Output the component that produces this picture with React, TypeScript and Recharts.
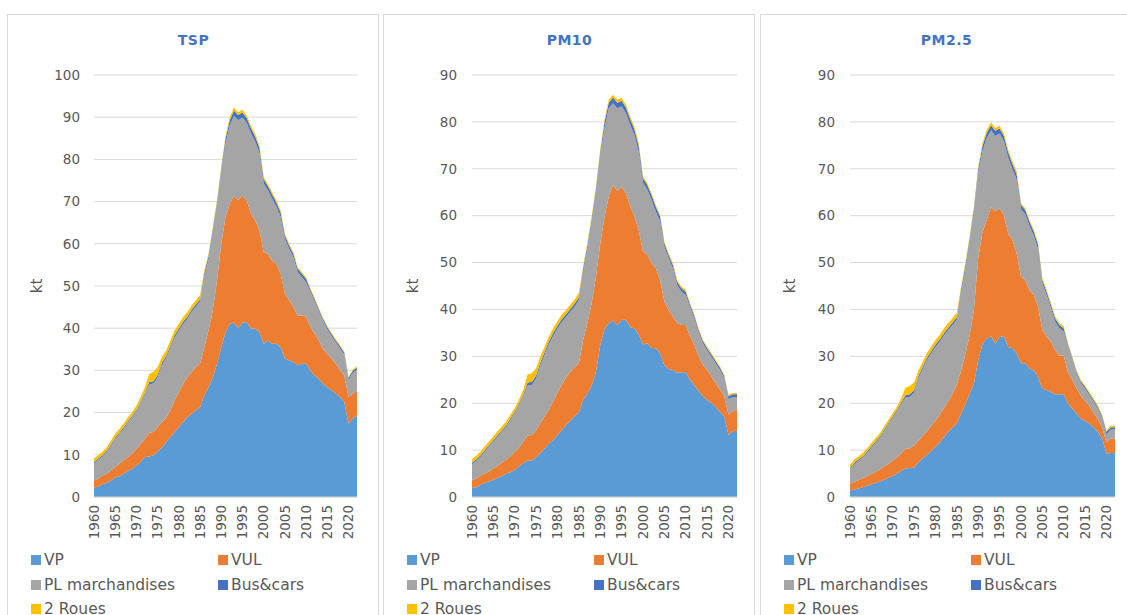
import { AreaChart, Area, XAxis, YAxis, CartesianGrid } from "recharts";

const FONT = '"DejaVu Sans", Verdana, sans-serif';
const TEXT = "#595959";

const years = [
  1960, 1961, 1962, 1963, 1964, 1965, 1966, 1967, 1968, 1969,
  1970, 1971, 1972, 1973, 1974, 1975, 1976, 1977, 1978, 1979,
  1980, 1981, 1982, 1983, 1984, 1985, 1986, 1987, 1988, 1989,
  1990, 1991, 1992, 1993, 1994, 1995, 1996, 1997, 1998, 1999,
  2000, 2001, 2002, 2003, 2004, 2005, 2006, 2007, 2008, 2009,
  2010, 2011, 2012, 2013, 2014, 2015, 2016, 2017, 2018, 2019,
  2020, 2021, 2022,
];

const seriesNames = ["VP", "VUL", "PL marchandises", "Bus&cars", "2 Roues"];
const seriesKeys = ["vp", "vul", "pl", "bus", "roues"];
const seriesColors = ["#5B9BD5", "#ED7D31", "#A5A5A5", "#4472C4", "#FFC000"];

const tspTicks = [0, 10, 20, 30, 40, 50, 60, 70, 80, 90, 100];
const pmTicks = [0, 10, 20, 30, 40, 50, 60, 70, 80, 90];

// TSP (kt)
const tspVP = [
  2.2, 2.5, 3.0, 3.3, 3.9, 4.6, 4.9, 5.5, 6.2, 6.7,
  7.5, 8.3, 9.5, 9.6, 9.9, 10.7, 11.8, 13.0, 14.2, 15.4,
  16.6, 17.8, 18.9, 19.7, 20.5, 21.3, 24.1, 26.0, 28.4, 31.6,
  35.5, 39.0, 41.0, 41.4, 39.9, 41.4, 41.4, 39.9, 39.9, 39.1,
  36.3, 37.1, 36.3, 36.3, 35.5, 32.8, 32.4, 32.0, 31.2, 31.6,
  31.6, 30.0, 28.8, 28.0, 26.8, 26.0, 25.3, 24.5, 23.7, 22.5,
  17.4, 18.6, 19.3,
];
const tspVUL = [
  1.7, 1.8, 2.1, 2.2, 2.4, 2.5, 3.0, 3.2, 3.3, 3.6,
  3.9, 4.3, 4.3, 5.6, 5.5, 5.9, 5.9, 5.8, 6.3, 7.5,
  8.3, 9.0, 9.5, 9.9, 10.3, 10.3, 11.4, 13.5, 15.8, 19.7,
  24.5, 27.3, 28.5, 30.0, 30.4, 30.0, 28.9, 27.2, 25.6, 24.1,
  21.7, 20.5, 19.7, 19.0, 17.4, 15.4, 14.2, 13.0, 11.8, 11.4,
  11.2, 10.3, 9.9, 9.1, 8.3, 7.9, 7.5, 7.1, 6.3, 6.3,
  6.3, 5.9, 6.0,
];
const tspPL = [
  4.1, 4.5, 4.5, 5.2, 5.9, 6.7, 7.1, 7.5, 8.2, 8.6,
  9.0, 9.8, 10.7, 11.5, 11.5, 11.8, 13.6, 14.1, 14.9, 14.9,
  14.5, 14.2, 13.8, 14.3, 14.3, 14.7, 16.8, 16.8, 18.4, 17.7,
  16.9, 17.4, 18.6, 18.9, 19.0, 18.5, 18.3, 19.1, 18.7, 18.3,
  16.3, 15.1, 14.7, 13.5, 13.5, 13.0, 12.2, 11.8, 10.3, 9.1,
  8.1, 8.4, 7.7, 6.9, 6.6, 5.8, 5.3, 5.0, 5.2, 4.9,
  4.0, 4.9, 4.9,
];
const tspBus = [
  0.3, 0.3, 0.3, 0.3, 0.3, 0.3, 0.3, 0.3, 0.3, 0.3,
  0.3, 0.3, 0.3, 0.5, 0.5, 0.5, 0.5, 0.5, 0.5, 0.5,
  0.5, 0.5, 0.5, 0.5, 0.5, 0.5, 0.8, 0.8, 0.8, 0.8,
  0.8, 1.2, 1.2, 1.2, 1.2, 1.2, 1.2, 1.2, 1.2, 1.2,
  1.0, 1.0, 1.0, 1.0, 1.0, 0.8, 0.8, 0.8, 0.8, 0.8,
  0.8, 0.5, 0.5, 0.5, 0.5, 0.5, 0.5, 0.5, 0.5, 0.5,
  0.5, 0.5, 0.5,
];
const tsp2R = [
  0.8, 0.8, 0.8, 0.8, 0.9, 0.9, 0.9, 0.9, 0.9, 0.9,
  1.0, 1.0, 1.2, 2.0, 2.2, 1.9, 1.4, 1.3, 1.2, 1.2,
  1.1, 1.1, 1.1, 1.0, 1.0, 1.0, 0.6, 0.5, 0.5, 0.5,
  0.5, 0.6, 0.7, 0.8, 0.7, 0.7, 0.6, 0.6, 0.6, 0.6,
  0.5, 0.5, 0.5, 0.5, 0.5, 0.4, 0.4, 0.4, 0.4, 0.4,
  0.4, 0.3, 0.3, 0.3, 0.3, 0.3, 0.3, 0.3, 0.3, 0.3,
  0.3, 0.3, 0.3,
];

// PM10 (kt)
const pm10VP = [
  1.9, 2.1, 2.6, 3.0, 3.3, 3.7, 4.1, 4.5, 5.0, 5.3,
  5.8, 6.5, 7.2, 7.8, 7.8, 8.5, 9.4, 10.4, 11.4, 12.2,
  13.2, 14.3, 15.3, 16.3, 17.2, 18.0, 20.8, 22.0, 23.8, 26.7,
  32.3, 35.8, 37.1, 37.7, 36.6, 37.8, 37.8, 36.2, 36.0, 34.6,
  32.5, 32.8, 31.8, 31.7, 30.7, 28.1, 27.3, 27.1, 26.5, 26.6,
  26.6, 25.0, 23.9, 22.6, 21.5, 20.7, 20.1, 19.2, 18.2, 17.2,
  13.3, 14.0, 14.2,
];
const pm10VUL = [
  1.7, 1.8, 2.0, 2.0, 2.2, 2.4, 2.6, 2.8, 3.0, 3.4,
  3.8, 4.0, 4.6, 5.3, 5.4, 5.7, 6.4, 6.8, 7.2, 8.2,
  9.0, 9.7, 10.2, 10.4, 10.5, 10.5, 12.7, 15.1, 17.6, 20.3,
  21.7, 24.0, 27.0, 28.9, 28.6, 28.4, 27.0, 25.8, 23.8, 22.4,
  19.9, 18.9, 18.1, 17.1, 15.6, 13.6, 12.6, 11.4, 10.6, 10.1,
  10.1, 9.3, 8.6, 7.4, 6.7, 6.4, 5.6, 5.1, 4.7, 4.3,
  4.3, 4.3, 4.4,
];
const pm10PL = [
  3.4, 3.8, 4.0, 4.7, 5.3, 5.7, 6.2, 6.7, 7.0, 7.8,
  8.3, 9.2, 9.8, 10.7, 10.7, 11.1, 12.3, 13.2, 14.0, 14.0,
  13.7, 13.3, 12.9, 12.8, 12.9, 13.5, 14.4, 15.8, 17.1, 17.9,
  18.8, 18.9, 18.8, 17.4, 17.7, 17.1, 17.1, 17.4, 17.4, 16.7,
  14.6, 13.9, 13.5, 12.1, 12.5, 11.7, 11.0, 10.3, 8.1, 7.1,
  6.4, 6.3, 5.7, 5.2, 4.6, 4.2, 4.2, 4.2, 4.2, 3.8,
  3.3, 3.0, 2.7,
];
const pm10Bus = [
  0.3, 0.3, 0.3, 0.3, 0.3, 0.3, 0.3, 0.3, 0.3, 0.3,
  0.3, 0.3, 0.3, 0.6, 0.6, 0.6, 0.6, 0.6, 0.6, 0.6,
  0.6, 0.6, 0.6, 0.6, 0.6, 0.6, 0.8, 0.8, 0.8, 0.8,
  0.8, 1.2, 1.2, 1.2, 1.2, 1.2, 1.2, 1.2, 1.2, 1.2,
  1.0, 1.0, 1.0, 1.0, 1.0, 0.7, 0.7, 0.7, 0.7, 0.7,
  0.7, 0.5, 0.5, 0.5, 0.5, 0.5, 0.5, 0.5, 0.5, 0.5,
  0.6, 0.6, 0.6,
];
const pm102R = [
  0.8, 0.8, 0.8, 0.8, 0.8, 0.8, 0.8, 0.8, 0.8, 0.8,
  0.8, 0.8, 1.0, 1.7, 1.9, 1.6, 1.3, 1.1, 1.1, 1.0,
  1.0, 1.0, 0.9, 0.9, 0.9, 0.9, 0.5, 0.5, 0.5, 0.5,
  0.5, 0.6, 0.6, 0.6, 0.6, 0.6, 0.6, 0.6, 0.6, 0.6,
  0.4, 0.4, 0.4, 0.4, 0.4, 0.4, 0.4, 0.4, 0.4, 0.4,
  0.4, 0.3, 0.3, 0.3, 0.3, 0.3, 0.3, 0.3, 0.3, 0.3,
  0.3, 0.3, 0.3,
];

// PM2.5 (kt)
const pm25VP = [
  1.4, 1.6, 1.8, 2.1, 2.4, 2.7, 3.0, 3.3, 3.7, 4.1,
  4.5, 5.0, 5.6, 6.1, 6.2, 6.3, 7.4, 8.2, 9.0, 9.8,
  10.7, 11.7, 12.8, 13.9, 14.8, 15.7, 17.8, 19.8, 22.1, 24.2,
  29.2, 32.7, 33.8, 34.3, 32.7, 34.2, 34.3, 32.0, 31.8, 30.6,
  28.5, 28.5, 27.4, 27.0, 25.6, 23.1, 22.8, 22.4, 21.9, 21.9,
  21.9, 19.9, 18.9, 17.8, 16.7, 16.2, 15.7, 14.9, 13.9, 12.5,
  9.3, 9.4, 9.4,
];
const pm25VUL = [
  1.5, 1.6, 1.8, 1.9, 2.0, 2.2, 2.4, 2.6, 2.8, 3.0,
  3.3, 3.5, 3.7, 4.2, 4.2, 4.7, 4.6, 4.8, 5.0, 5.4,
  5.6, 5.9, 6.2, 6.6, 7.2, 8.3, 9.2, 10.7, 12.4, 15.8,
  21.8, 23.8, 25.3, 27.6, 28.2, 27.4, 25.8, 24.2, 23.0, 21.4,
  18.5, 17.8, 16.7, 16.1, 15.0, 12.5, 11.4, 10.7, 9.4, 8.3,
  8.3, 6.7, 6.1, 5.4, 4.9, 4.3, 3.7, 3.1, 2.7, 2.3,
  2.4, 3.1, 3.1,
];
const pm25PL = [
  3.0, 3.8, 4.1, 4.4, 5.0, 5.6, 6.2, 6.7, 7.6, 8.4,
  9.1, 9.8, 10.6, 10.9, 11.0, 11.3, 13.3, 14.3, 15.2, 15.4,
  15.7, 15.5, 15.5, 15.1, 14.7, 13.8, 16.6, 18.1, 19.8, 20.7,
  18.2, 17.3, 17.5, 16.3, 16.1, 15.9, 15.8, 16.2, 15.1, 15.7,
  14.4, 14.0, 13.7, 12.6, 12.3, 10.0, 8.9, 7.2, 6.1, 5.8,
  5.1, 5.5, 4.3, 3.1, 2.7, 2.6, 2.3, 2.3, 2.2, 2.0,
  1.7, 1.9, 1.9,
];
const pm25Bus = [
  0.3, 0.3, 0.3, 0.3, 0.3, 0.3, 0.3, 0.3, 0.3, 0.3,
  0.3, 0.3, 0.3, 0.5, 0.5, 0.5, 0.5, 0.5, 0.5, 0.5,
  0.5, 0.5, 0.5, 0.5, 0.5, 0.5, 0.8, 0.8, 0.8, 0.8,
  0.8, 1.1, 1.1, 1.1, 1.1, 1.1, 1.1, 1.1, 1.1, 1.1,
  0.9, 0.9, 0.9, 0.9, 0.9, 0.7, 0.7, 0.7, 0.7, 0.7,
  0.7, 0.4, 0.4, 0.4, 0.4, 0.4, 0.4, 0.4, 0.4, 0.4,
  0.5, 0.5, 0.5,
];
const pm252R = [
  0.7, 0.7, 0.7, 0.7, 0.7, 0.7, 0.7, 0.7, 0.7, 0.7,
  0.7, 0.7, 0.9, 1.6, 1.8, 1.6, 1.2, 1.0, 1.0, 1.0,
  1.0, 1.0, 1.0, 1.0, 1.0, 1.0, 0.5, 0.5, 0.5, 0.5,
  0.5, 0.6, 0.6, 0.6, 0.6, 0.6, 0.6, 0.6, 0.6, 0.6,
  0.4, 0.4, 0.4, 0.4, 0.4, 0.4, 0.4, 0.4, 0.4, 0.4,
  0.4, 0.3, 0.3, 0.3, 0.3, 0.3, 0.3, 0.3, 0.3, 0.3,
  0.3, 0.3, 0.3,
];

const buildRows = (vp: number[], vul: number[], pl: number[], bus: number[], roues: number[]) =>
  years.map((year, i) => ({ year, vp: vp[i], vul: vul[i], pl: pl[i], bus: bus[i], roues: roues[i] }));

const panels = [
  { title: "TSP", left: 7, rows: buildRows(tspVP, tspVUL, tspPL, tspBus, tsp2R), yMax: 100, ticks: tspTicks, axisW: 87, right: 23, tm: 8 },
  { title: "PM10", left: 383, rows: buildRows(pm10VP, pm10VUL, pm10PL, pm10Bus, pm102R), yMax: 90, ticks: pmTicks, axisW: 89, right: 19, tm: 9 },
  { title: "PM2.5", left: 760, rows: buildRows(pm25VP, pm25VUL, pm25PL, pm25Bus, pm252R), yMax: 90, ticks: pmTicks, axisW: 90, right: 18, tm: 9 },
];

const YearTick = (props: any) => {
  const { x, y, payload } = props;
  return (
    <g transform={`translate(${x},${y})`}>
      <text transform="rotate(-90)" textAnchor="end" dy="0.35em" fontSize={13.5} fill={TEXT} fontFamily={FONT}>
        {payload.value}
      </text>
    </g>
  );
};

const KtLabel = (props: any) => {
  const { viewBox } = props;
  const cx = viewBox.x + 30;
  const cy = viewBox.y + viewBox.height / 2;
  return (
    <text x={cx} y={cy} transform={`rotate(-90, ${cx}, ${cy})`} textAnchor="middle" dy="0.35em" fontSize={15} fill={TEXT} fontFamily={FONT}>
      kt
    </text>
  );
};

function Panel({ p }: { p: (typeof panels)[number] }) {
  const legendPos = [
    [24, 560],
    [211, 560],
    [24, 585],
    [211, 585],
    [24, 609],
  ];
  return (
    <>
      <div
        style={{
          position: "absolute",
          left: p.left,
          top: 14,
          width: 372,
          height: 620,
          border: "1px solid #D9D9D9",
          boxSizing: "border-box",
          background: "#fff",
        }}
      />
      <div
        style={{
          position: "absolute",
          left: p.left,
          top: 31,
          width: 373,
          height: 18,
          lineHeight: "18px",
          textAlign: "center",
          fontFamily: FONT,
          fontSize: 14,
          fontWeight: "bold",
          letterSpacing: 0.5,
          color: "#4472C4",
        }}
      >
        {p.title}
      </div>
      <div style={{ position: "absolute", left: p.left, top: 0 }}>
        <AreaChart width={373} height={615} data={p.rows} margin={{ top: 75, right: p.right, left: 0, bottom: 78 }}>
          <CartesianGrid vertical={false} stroke="#D9D9D9" />
          <XAxis
            dataKey="year"
            interval={4}
            tickLine={false}
            axisLine={{ stroke: "#D9D9D9" }}
            tick={<YearTick />}
            height={40}
          />
          <YAxis
            domain={[0, p.yMax]}
            ticks={p.ticks}
            width={p.axisW}
            tickLine={false}
            axisLine={false}
            tickMargin={p.tm}
            tick={{ fontSize: 13.5, fill: TEXT, fontFamily: FONT }}
            label={<KtLabel />}
          />
          {seriesKeys.map((k, i) => (
            <Area
              key={k}
              type="linear"
              dataKey={k}
              name={seriesNames[i]}
              stackId="1"
              stroke="none"
              fill={seriesColors[i]}
              fillOpacity={1}
              isAnimationActive={false}
            />
          ))}
        </AreaChart>
      </div>
      {seriesNames.map((name, i) => (
        <div
          key={name}
          style={{
            position: "absolute",
            left: p.left + legendPos[i][0],
            top: legendPos[i][1] - 9,
            height: 18,
            display: "flex",
            alignItems: "center",
            fontFamily: FONT,
            fontSize: 15.5,
            color: TEXT,
            whiteSpace: "nowrap",
          }}
        >
          <span style={{ display: "inline-block", width: 10, height: 10, background: seriesColors[i], marginRight: 3 }} />
          {name}
        </div>
      ))}
    </>
  );
}

export default function App() {
  return (
    <div style={{ position: "absolute", left: 0, top: 0, width: 1127, height: 615, overflow: "hidden", background: "#fff" }}>
      {panels.map((p) => (
        <Panel key={p.title} p={p} />
      ))}
    </div>
  );
}
